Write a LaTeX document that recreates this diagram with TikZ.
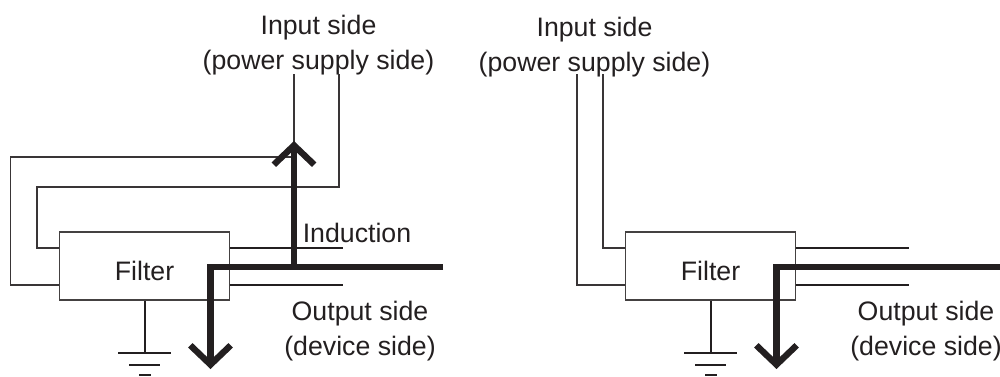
\documentclass[tikz,border=0pt]{standalone}
\usepackage{fontspec}
\setmainfont{Liberation Sans}
\usepackage{xcolor}
\usetikzlibrary{arrows.meta, positioning}
\definecolor{inkc}{HTML}{231F20}
\tikzset{
    filterbox/.style={draw=inkc!85, line width=0.7pt, minimum width=3.4cm, minimum height=1.36cm, inner sep=0pt, text=inkc, text height=17pt, text depth=0pt},
    wire/.style={draw=inkc!90, line width=0.6pt},
    outwire/.style={draw=inkc, line width=0.85pt},
    gndbar/.style={draw=inkc, line width=1pt},
    flow/.style={draw=inkc, line width=3.6pt, -{Straight Barb[length=11pt, width=23pt, line width=3.6pt]}},
    caption/.style={align=center, text=inkc, inner sep=0pt}
}

\begin{document}
\begin{tikzpicture}[
    x=0.02cm, y=-0.02cm,
    font=\fontsize{15.2}{19.85}\selectfont
]
    \useasboundingbox (0,0) rectangle (1000,376);

    % Left circuit
    \node[caption] (inleft) at (318.5,45) {Input side\\(power supply side)};
    \node[caption] (outleft) at (360,331) {Output side\\(device side)};
    \node[caption] (induction) at (357,233) {Induction};
    \node[filterbox] (filterleft) at (144.5,266) {Filter};

    \coordinate (ltopa) at (294,74);
    \coordinate (ltopb) at (339,74);
    \coordinate (lwa) at (filterleft.west |- 0,285);
    \coordinate (lwb) at (filterleft.west |- 0,248);
    \coordinate (lea) at (filterleft.east |- 0,248);
    \coordinate (leb) at (filterleft.east |- 0,285);
    \coordinate (lenda) at (343,248);
    \coordinate (lendb) at (343,285);
    \coordinate (lgnd) at (145,353);
    \coordinate (lfree) at (443,267);
    \coordinate (lfork) at (294,267);
    \coordinate (lup) at (294,141);
    \coordinate (ldown) at (210.5,369);

    \draw[wire] (lwa) -- (10.5,285) -- (10.5,157) -- (294,157) -- (ltopa);
    \draw[wire] (lwb) -- (37,248) -- (37,187) -- (339,187) -- (ltopb);
    \draw[outwire] (lea) -- (lenda);
    \draw[outwire] (leb) -- (lendb);
    \draw[outwire] (filterleft.south -| lgnd) -- (lgnd);
    \draw[gndbar] (118,353) -- (171,353);
    \draw[gndbar] (129,365) -- (160,365);
    \draw[gndbar] (139,375) -- (151,375);

    \draw[flow, -] (lfree) -- (210.5,267);
    \draw[flow] (lfork) -- (lup);
    \draw[flow, line join=miter] (lfork) -- (210.5,267) -- (ldown);

    % Right circuit
    \node[caption] (inright) at (594.5,47) {Input side\\(power supply side)};
    \node[caption] (outright) at (926,331) {Output side\\(device side)};
    \node[filterbox] (filterright) at (710.5,266) {Filter};

    \coordinate (rtopa) at (577,74);
    \coordinate (rtopb) at (603,74);
    \coordinate (rwa) at (filterright.west |- 0,285);
    \coordinate (rwb) at (filterright.west |- 0,248);
    \coordinate (rea) at (filterright.east |- 0,248);
    \coordinate (reb) at (filterright.east |- 0,285);
    \coordinate (renda) at (909,248);
    \coordinate (rendb) at (909,285);
    \coordinate (rgnd) at (711,353);
    \coordinate (rfree) at (1000,267);
    \coordinate (rdown) at (776.5,369);

    \draw[wire] (rwa) -- (577,285) -- (rtopa);
    \draw[wire] (rwb) -- (603,248) -- (rtopb);
    \draw[outwire] (rea) -- (renda);
    \draw[outwire] (reb) -- (rendb);
    \draw[outwire] (filterright.south -| rgnd) -- (rgnd);
    \draw[gndbar] (684,353) -- (737,353);
    \draw[gndbar] (695,365) -- (726,365);
    \draw[gndbar] (705,375) -- (717,375);

    \draw[flow, line join=miter] (rfree) -- (776.5,267) -- (rdown);
\end{tikzpicture}
\end{document}
